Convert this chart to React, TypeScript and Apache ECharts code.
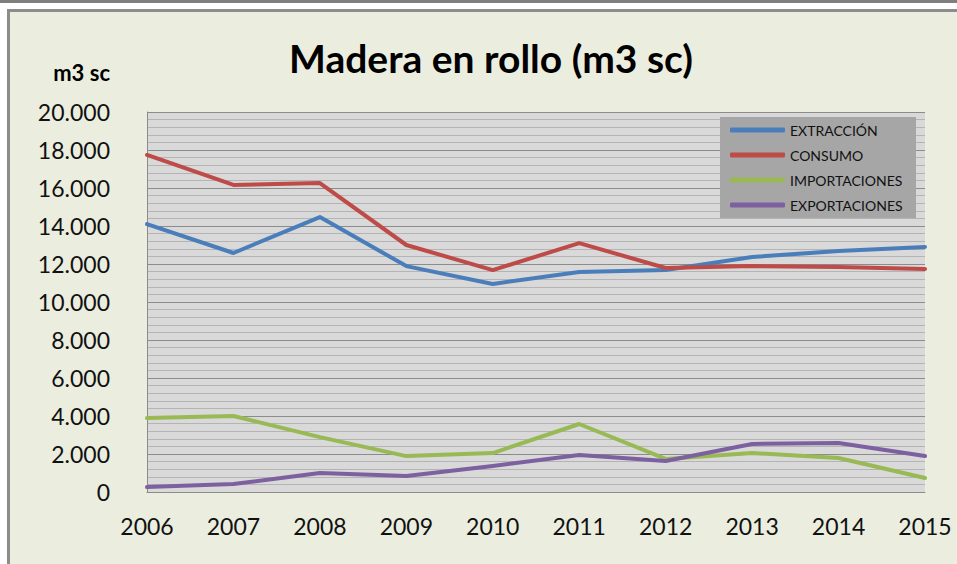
import React, { useEffect, useRef } from "react";
import * as echarts from "echarts";

const years = ["2006", "2007", "2008", "2009", "2010", "2011", "2012", "2013", "2014", "2015"];
const extraccion = [14100, 12580, 14470, 11890, 10950, 11580, 11680, 12370, 12680, 12900];
const consumo = [17740, 16160, 16260, 13000, 11680, 13100, 11790, 11890, 11840, 11740];
const importaciones = [3890, 4000, 2890, 1890, 2050, 3580, 1740, 2050, 1790, 740];
const exportaciones = [260, 420, 1000, 840, 1370, 1950, 1630, 2530, 2580, 1890];

const seriesNames = ["EXTRACCIÓN", "CONSUMO", "IMPORTACIONES", "EXPORTACIONES"];
const seriesValues = [extraccion, consumo, importaciones, exportaciones];
const seriesColors = ["#4A7EBB", "#BE4B48", "#98B954", "#7D60A0"];

const titleText = "Madera en rollo (m3 sc)";
const unitText = "m3 sc";

const fmt = (v: number) => {
  if (v === 0) return "0";
  const s = String(Math.round(v));
  return s.replace(/\B(?=(\d{3})+(?!\d))/g, ".");
};

export default function App() {
  const ref = useRef<HTMLDivElement>(null);
  useEffect(() => {
    document.body.style.margin = "0";
    if (!ref.current) return;
    const chart = echarts.init(ref.current, undefined, { renderer: "svg" });
    const font = "Lato, 'Noto Sans', sans-serif";
    chart.setOption({
      animation: false,
      backgroundColor: "#ffffff",
      textStyle: { fontFamily: font },
      graphic: [
        { type: "rect", z: -10, shape: { x: 0, y: 0, width: 957, height: 3 }, style: { fill: "#7f7f7f" } },
        { type: "rect", z: -10, shape: { x: 7, y: 9, width: 950, height: 555 }, style: { fill: "#8c8c8c" } },
        { type: "rect", z: -10, shape: { x: 10, y: 12, width: 947, height: 552 }, style: { fill: "#EBEEDF" } },
        { type: "rect", z: 3, shape: { x: 720, y: 117, width: 196, height: 101 }, style: { fill: "#A6A6A6" } },
        {
          type: "text", z: 5, x: 491, y: 58,
          style: { text: titleText, font: `bold 39px ${font}`, fill: "#000000", align: "center", verticalAlign: "middle" },
        },
        {
          type: "text", z: 5, x: 110, y: 72,
          style: { text: unitText, font: `bold 22px ${font}`, fill: "#000000", align: "right", verticalAlign: "middle" },
        },
      ],
      legend: {
        orient: "vertical",
        left: 730,
        top: 123,
        padding: 0,
        itemGap: 11,
        itemWidth: 55,
        itemHeight: 5,
        z: 6,
        icon: "roundRect",
        data: seriesNames,
        textStyle: { fontFamily: font, fontSize: 14, color: "#111111" },
      },
      grid: {
        left: 147,
        top: 112,
        right: 32,
        bottom: 72,
        show: true,
        backgroundColor: "#D9D9D9",
        borderWidth: 0,
      },
      xAxis: {
        type: "category",
        data: years,
        boundaryGap: false,
        axisLine: { lineStyle: { color: "#8c8c8c", width: 1 } },
        axisTick: { show: false },
        axisLabel: { fontFamily: font, fontSize: 23, color: "#111111", margin: 22 },
      },
      yAxis: {
        type: "value",
        min: 0,
        max: 20000,
        interval: 2000,
        axisLine: { show: true, lineStyle: { color: "#8c8c8c", width: 1 } },
        axisTick: { show: false },
        axisLabel: { fontFamily: font, fontSize: 23, color: "#111111", margin: 37, formatter: fmt },
        splitLine: { lineStyle: { color: "#8c8c8c", width: 1 } },
        minorTick: { show: false, splitNumber: 5 },
        minorSplitLine: { show: true, lineStyle: { color: "#b4b4b4", width: 1 } },
      },
      series: seriesNames.map((name, i) => ({
        name,
        type: "line",
        data: seriesValues[i],
        showSymbol: false,
        symbol: "none",
        lineStyle: { color: seriesColors[i], width: 4, cap: "round", join: "round" },
        itemStyle: { color: seriesColors[i] },
      })),
    });
    return () => chart.dispose();
  }, []);
  return <div ref={ref} style={{ width: 957, height: 564 }} />;
}
